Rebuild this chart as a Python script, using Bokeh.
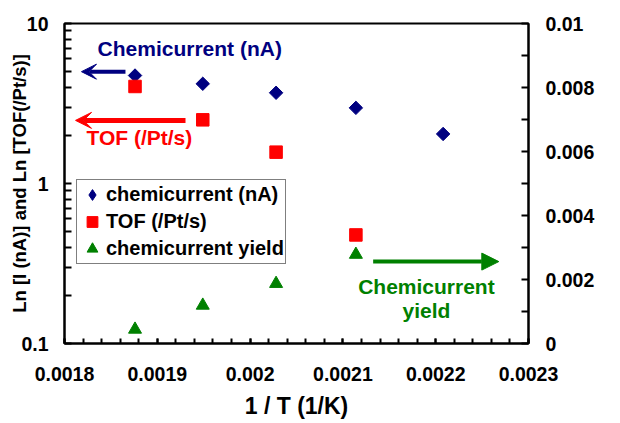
import numpy as np
from bokeh.plotting import figure
from bokeh.models import (Range1d, LinearAxis, LinearScale, FixedTicker, NumeralTickFormatter,
                          Legend, LegendItem, Arrow, VeeHead, NormalHead, Label)
from bokeh.embed import file_html
from bokeh.resources import INLINE

# ---- data ----
inv_T = [0.001876, 0.001949, 0.002028, 0.002114, 0.002208]
chemicurrent_nA = [4.73, 4.20, 3.69, 2.97, 2.04]
inv_T_tof = [0.001876, 0.001949, 0.002028, 0.002114]
tof_per_Pt_s = [4.04, 2.50, 1.57, 0.477]
inv_T_yield = [0.001876, 0.001949, 0.002028, 0.002114]
chemicurrent_yield = [0.00044, 0.00119, 0.00187, 0.00278]

x_ticks = [0.0018, 0.0019, 0.002, 0.0021, 0.0022, 0.0023]
y_ticks = [0.1, 1, 10]
y2_ticks = [0, 0.002, 0.004, 0.006, 0.008, 0.01]

FONT = "Liberation Sans"
NAVY = "#000080"
RED = "#FF0000"
GREEN = "#008000"

p = figure(width=620, height=423, output_backend="svg", toolbar_location=None,
           x_range=Range1d(0.0018, 0.0023), y_range=Range1d(0.1, 10), y_axis_type="log",
           min_border_left=64, min_border_right=92, min_border_top=23, min_border_bottom=80)
p.extra_y_ranges = {"yield": Range1d(0, 0.01)}
p.extra_y_scales = {"yield": LinearScale()}
p.xgrid.visible = False
p.ygrid.visible = False
p.outline_line_color = "black"
p.outline_line_width = 2
p.background_fill_color = "white"
p.border_fill_color = "white"

def style_axis(ax, tick_len, label_size="19.5px"):
    ax.axis_line_color = "black"
    ax.axis_line_width = 2
    ax.major_tick_line_color = "black"
    ax.major_tick_line_width = 2
    ax.minor_tick_line_color = "black"
    ax.minor_tick_line_width = 2
    ax.major_tick_in = tick_len
    ax.major_tick_out = 0
    ax.minor_tick_in = tick_len
    ax.minor_tick_out = 0
    ax.major_label_text_font = FONT
    ax.major_label_text_font_style = "bold"
    ax.major_label_text_font_size = label_size
    ax.major_label_text_color = "black"
    ax.axis_label_text_font = FONT
    ax.axis_label_text_font_style = "bold"
    ax.axis_label_text_color = "black"

# x axis
xax = p.xaxis[0]
style_axis(xax, 5)
x_minor = [round(v, 6) for v in np.arange(0.0018, 0.00230001, 0.00002)]
xax.ticker = FixedTicker(ticks=x_ticks, minor_ticks=x_minor)
xax.formatter = NumeralTickFormatter(format="0.[0000]")
xax.major_label_standoff = 23
xax.axis_label = "1 / T (1/K)"
xax.axis_label_text_font_size = "23px"
xax.axis_label_standoff = 9

# left axis
yax = p.yaxis[0]
style_axis(yax, 7)
y_minor = [m * d for d in (0.1, 1) for m in range(2, 10)]
yax.ticker = FixedTicker(ticks=y_ticks, minor_ticks=y_minor)
yax.formatter = NumeralTickFormatter(format="0.[0]")
yax.major_label_standoff = 16
yax.axis_label = "Ln [I (nA)] and Ln [TOF(/Pt/s)]"
yax.axis_label_text_font_size = "18.5px"
yax.axis_label_standoff = -12

# right axis
y2_minor = [0.001, 0.003, 0.005, 0.007, 0.009]
ax2 = LinearAxis(y_range_name="yield", ticker=FixedTicker(ticks=y2_ticks, minor_ticks=y2_minor),
                 formatter=NumeralTickFormatter(format="0.[000]"))
style_axis(ax2, 7)
ax2.major_label_standoff = 17
p.add_layout(ax2, "right")

# ---- data marks ----
r_cc = p.scatter(inv_T, chemicurrent_nA, marker="square", angle=np.pi / 4, size=9.5,
                 fill_color=NAVY, line_color=NAVY)
r_tof = p.scatter(inv_T_tof, tof_per_Pt_s, marker="square", size=12.5,
                  fill_color=RED, line_color=RED)
r_y = p.scatter(inv_T_yield, chemicurrent_yield, marker="triangle", size=13,
                fill_color=GREEN, line_color=GREEN, y_range_name="yield")
# legend-only key (legend markers are always drawn unrotated); NaN point is not drawn
r_cc_key = p.scatter(x=[np.nan], y=[np.nan], marker="diamond", size=12,
                     fill_color=NAVY, line_color=NAVY)

legend = Legend(items=[LegendItem(label="chemicurrent (nA)", renderers=[r_cc_key]),
                       LegendItem(label="TOF (/Pt/s)", renderers=[r_tof]),
                       LegendItem(label="chemicurrent yield", renderers=[r_y])],
                location=(12, 79))
legend.border_line_color = "black"
legend.border_line_width = 1.5
legend.padding = 1
legend.spacing = 0
legend.margin = 0
legend.glyph_height = 27
legend.glyph_width = 28
legend.label_height = 27
legend.label_standoff = 0
legend.label_text_font = FONT
legend.label_text_font_style = "bold"
legend.label_text_font_size = "20px"
legend.label_text_color = "black"
legend.background_fill_alpha = 1
p.add_layout(legend)

# ---- annotations ----
p.add_layout(Arrow(x_start=0.0018657, y_start=5.0, x_end=0.0018183, y_end=5.0,
                   line_color=NAVY, line_width=4,
                   end=VeeHead(size=15, fill_color=NAVY, line_color=NAVY)))
p.add_layout(Arrow(x_start=0.0019304, y_start=2.48, x_end=0.0018119, y_end=2.48,
                   line_color=RED, line_width=5,
                   end=VeeHead(size=16, fill_color=RED, line_color=RED)))
p.add_layout(Arrow(x_start=0.0021326, y_start=0.00256, x_end=0.002268, y_end=0.00256,
                   y_range_name="yield", line_color=GREEN, line_width=4,
                   end=NormalHead(size=17, fill_color=GREEN, line_color=GREEN)))

def add_label(x, y, text, color, size="21px", align="left", y_range_name="default", angle=0.0):
    p.add_layout(Label(x=x, y=y, text=text, text_color=color, text_font=FONT,
                       text_font_style="bold", text_font_size=size, text_align=align,
                       text_baseline="middle", y_range_name=y_range_name, angle=angle))

add_label(0.0018356, 6.93, "Chemicurrent (nA)", NAVY)
add_label(0.0018237, 1.94, "TOF (/Pt/s)", RED)
add_label(0.00219, 0.00178, "Chemicurrent", GREEN, align="center", y_range_name="yield")
add_label(0.00219, 0.00103, "yield", GREEN, align="center", y_range_name="yield")
# right-hand axis title (reads bottom-to-top as in the reference)
add_label(0.0023884, 0.00561, "chemicurrent yield", "black", size="15px", align="center",
          y_range_name="yield", angle=np.pi / 2)

open("out.html", "w").write(file_html(p, INLINE))
